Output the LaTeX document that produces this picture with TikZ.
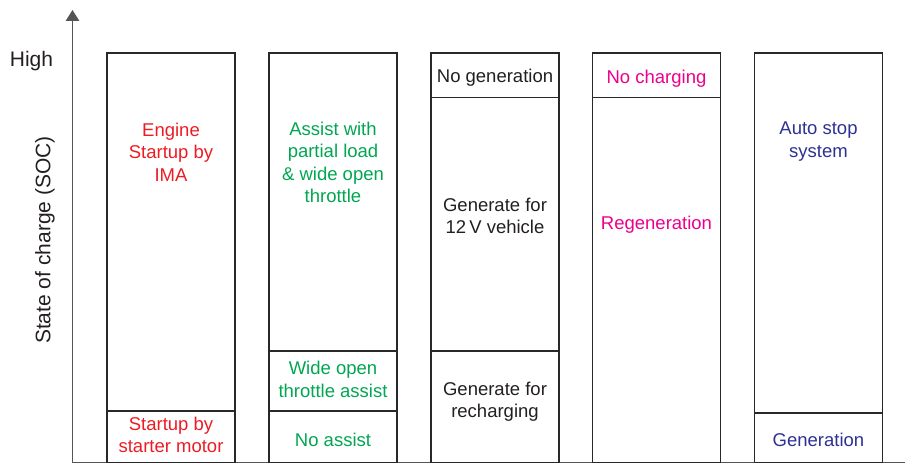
\documentclass[tikz,border=0pt]{standalone}
\usepackage{fontspec}
\setmainfont{Liberation Sans}
\usetikzlibrary{arrows.meta}
\definecolor{cred}{RGB}{237,28,36}
\definecolor{cgreen}{RGB}{0,166,81}
\definecolor{cmag}{RGB}{236,0,140}
\definecolor{cblue}{RGB}{46,49,146}
\definecolor{ctext}{RGB}{35,31,32}
\definecolor{cline}{RGB}{40,40,40}
\definecolor{caxis}{RGB}{85,85,85}
\begin{document}
\begin{tikzpicture}[x=1pt,y=-1pt,
  sec/.style={draw=cline,line width=1.2pt,minimum width=128pt,inner sep=0pt,rectangle},
  lbl/.style={align=center,font=\fontsize{18.5}{22.5}\selectfont,inner sep=0pt,text=ctext},
  axlbl/.style={font=\fontsize{21}{25}\selectfont,inner sep=0pt,text=ctext},
  axisline/.style={draw=caxis,line width=1.4pt}]
\useasboundingbox (0,0) rectangle (905,468);
% axes
\coordinate (o) at (72.5,462.5);
\coordinate (ytop) at (72.5,10);
\coordinate (xend) at (905,462.5);
\draw[axisline,-{Triangle[width=13.5pt,length=11pt]}] (o) -- (ytop);
\draw[axisline] (o) -- (xend);
\node[axlbl] (high) at (31.5,61) {High};
\node[axlbl,rotate=90] (soc) at (45,240) {State of charge (SOC)};
% column 1
\node[sec,minimum height=358pt] (b1a) at (171,232) {};
\node[sec,minimum height=51.5pt] (b1b) at (171,436.75) {};
\node[lbl,text=cred] (t1a) at (171,152) {Engine\\Startup by\\IMA};
\node[lbl,text=cred] (t1b) at (171,435) {Startup by\\starter motor};
% column 2
\node[sec,minimum height=298pt] (b2a) at (333,202) {};
\node[sec,minimum height=60pt] (b2b) at (333,381) {};
\node[sec,minimum height=51.5pt] (b2c) at (333,436.75) {};
\node[lbl,text=cgreen] (t2a) at (333,162.5) {Assist with\\partial load\\\& wide open\\throttle};
\node[lbl,text=cgreen] (t2b) at (333,379.5) {Wide open\\throttle assist};
\node[lbl,text=cgreen] (t2c) at (333,439.5) {No assist};
% column 3
\node[sec,minimum height=44.5pt] (b3a) at (495,75.25) {};
\node[sec,minimum height=253.5pt] (b3b) at (495,224.25) {};
\node[sec,minimum height=111.5pt] (b3c) at (495,406.75) {};
\node[lbl] (t3a) at (495,78) {No generation};
\node[lbl] (t3b) at (495,216) {Generate for\\12\,V vehicle};
\node[lbl] (t3c) at (495,401.5) {Generate for\\recharging};
% column 4
\node[sec,minimum height=44.5pt] (b4a) at (656.5,75.25) {};
\node[sec,minimum height=365pt] (b4b) at (656.5,280) {};
\node[lbl,text=cmag] (t4a) at (656.5,78.5) {No charging};
\node[lbl,text=cmag] (t4b) at (656.5,225) {Regeneration};
% column 5
\node[sec,minimum height=360pt] (b5a) at (818.5,233) {};
\node[sec,minimum height=49.5pt] (b5b) at (818.5,437.75) {};
\node[lbl,text=cblue] (t5a) at (818.5,141.5) {Auto stop\\system};
\node[lbl,text=cblue] (t5b) at (818.5,439.5) {Generation};
\end{tikzpicture}
\end{document}
